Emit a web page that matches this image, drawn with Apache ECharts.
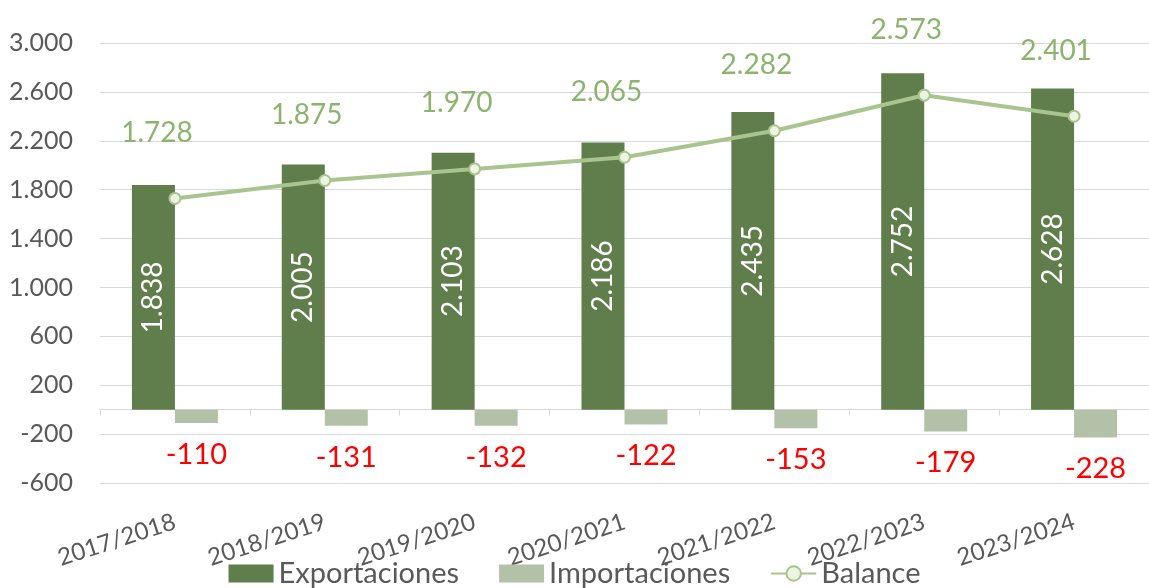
<!DOCTYPE html>
<html lang="es">
<head>
<meta charset="utf-8">
<title>Exportaciones, importaciones y balance</title>
<script src="https://cdn.jsdelivr.net/npm/echarts@6/dist/echarts.min.js"></script>
<style>
  html, body { margin: 0; padding: 0; background: #fff; }
  #echart { width: 1149px; height: 588px; }
</style>
</head>
<body>
<div id="echart"></div>
<script>
const categories = ["2017/2018", "2018/2019", "2019/2020", "2020/2021", "2021/2022", "2022/2023", "2023/2024"];
const exportaciones = [1838, 2005, 2103, 2186, 2435, 2752, 2628];
const importaciones = [-110, -131, -132, -122, -153, -179, -228];
const balance = [1728, 1875, 1970, 2065, 2282, 2573, 2401];

const FONT = "Lato";
const GREY = "#595959";

// thousands with a dot, as in the original
function fmt(v) {
  return String(v).replace(/\B(?=(\d{3})+(?!\d))/g, ".");
}

function getOptions() {
  return {
    animation: false,
    textStyle: { fontFamily: FONT },
    grid: { left: 100, top: 43, width: 1056, height: 440 },
    legend: {
      top: 554,
      left: "center",
      itemWidth: 45,
      itemHeight: 18,
      itemGap: 40,
      textStyle: { color: GREY, fontSize: 29, fontFamily: FONT },
      data: [
        { name: "Exportaciones", icon: "rect" },
        { name: "Importaciones", icon: "rect" },
        { name: "Balance" },
      ],
    },
    xAxis: [
      {
        type: "category",
        data: categories,
        position: "bottom",
        axisLine: { show: false, onZero: false },
        axisTick: { show: false },
        axisLabel: {
          rotate: 18,
          margin: 38,
          color: GREY,
          fontSize: 24,
          fontFamily: FONT,
          interval: 0,
        },
      },
      {
        // zero line with its category ticks
        type: "category",
        data: categories,
        position: "bottom",
        axisLine: { show: true, onZero: true, lineStyle: { color: "#d9d9d9", width: 1 } },
        axisTick: { show: true, interval: 0, length: 6, lineStyle: { color: "#d9d9d9" } },
        axisLabel: { show: false },
      },
    ],
    yAxis: {
      type: "value",
      min: -600,
      max: 3000,
      interval: 400,
      axisLine: { show: false },
      axisTick: { show: false },
      splitLine: { lineStyle: { color: "#d9d9d9", width: 1 } },
      axisLabel: {
        margin: 27,
        color: GREY,
        fontSize: 25,
        fontFamily: FONT,
        formatter: (v) => fmt(v),
      },
    },
    series: [
      {
        name: "Exportaciones",
        type: "bar",
        data: exportaciones,
        barWidth: 43,
        barGap: "0%",
        itemStyle: { color: "#5f7e4b" },
        label: {
          show: true,
          position: "inside",
          rotate: 90,
          color: "#ffffff",
          fontSize: 28,
          fontFamily: FONT,
          formatter: (p) => fmt(p.value),
        },
      },
      {
        name: "Importaciones",
        type: "bar",
        data: importaciones,
        barWidth: 43,
        barGap: "0%",
        itemStyle: { color: "#b4c1a9" },
        label: {
          show: true,
          position: "bottom",
          distance: 17,
          color: "#ff0000",
          fontSize: 29,
          fontFamily: FONT,
          formatter: (p) => fmt(p.value),
        },
      },
      {
        name: "Balance",
        type: "line",
        data: balance,
        symbol: "circle",
        symbolSize: 11,
        lineStyle: { color: "#a9c48e", width: 4 },
        itemStyle: { color: "#ebf5df", borderColor: "#a9c48e", borderWidth: 2 },
        label: {
          show: true,
          position: "top",
          distance: 45,
          offset: [-18, 0],
          color: "#8cb46e",
          fontSize: 28,
          fontFamily: FONT,
          formatter: (p) => fmt(p.value),
        },
        z: 5,
      },
    ],
  };
}

const chart = echarts.init(document.getElementById("echart"));
chart.setOption(getOptions());
window.addEventListener("resize", () => chart.resize());
</script>
</body>
</html>
